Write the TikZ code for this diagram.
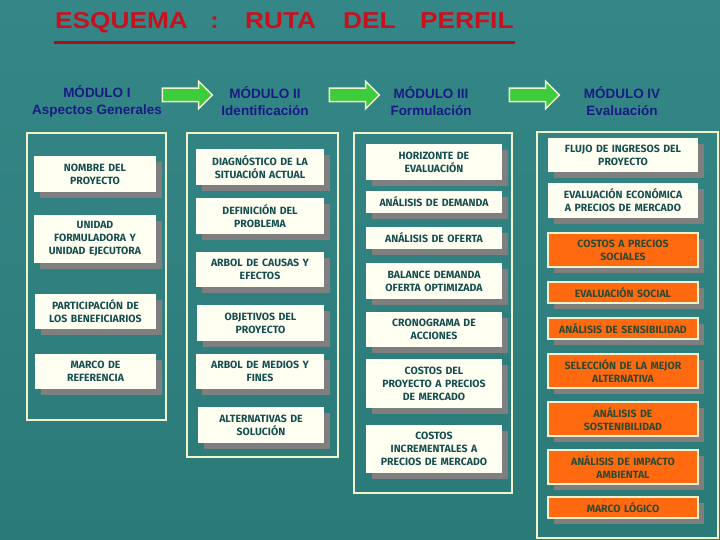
\documentclass[tikz,border=0pt]{standalone}
\usepackage{fontspec}
\setmainfont{Liberation Sans}
\newfontfamily\boxfont{Fira Sans}
\usetikzlibrary{shadows,shapes.arrows}
\definecolor{bgtop}{HTML}{358787}
\definecolor{bgbot}{HTML}{2A7A78}
\definecolor{titlered}{HTML}{C8101E}
\definecolor{modblue}{HTML}{1A1A85}
\definecolor{cream}{HTML}{F2F2CC}
\definecolor{boxfill}{HTML}{FFFFF2}
\definecolor{shadowgray}{HTML}{7F7F7F}
\definecolor{boxtext}{HTML}{164E50}
\definecolor{orangefill}{HTML}{FF6A10}
\definecolor{orangetext}{HTML}{2E4A30}
\definecolor{arrowgreen}{HTML}{3CCC3C}
\tikzset{
  frame/.style={draw=cream, line width=2.5pt},
  wbox/.style={fill=boxfill, inner sep=0pt, align=center, text=boxtext,
    font=\boxfont\bfseries\fontsize{10.5}{13}\selectfont,
    general shadow={fill=shadowgray, shadow xshift=6pt, shadow yshift=-6pt}},
  obox/.style={wbox, fill=orangefill, draw=cream, line width=1.2pt, text=orangetext},
  modlabel/.style={text=modblue, align=center, font=\bfseries\fontsize{13.5}{17}\selectfont, inner sep=0pt},
  garrow/.style={single arrow, fill=arrowgreen, draw=cream, line width=1.5pt,
    minimum height=50pt, inner xsep=0pt, inner ysep=6pt,
    single arrow head extend=7pt, single arrow tip angle=90},
  titleword/.style={text=titlered, font=\bfseries\fontsize{25}{30}\selectfont, inner sep=0pt, anchor=base west, xscale=1.05, yscale=0.92}
}
\newcommand\bx[7]{%
  \node[#7, minimum width={#4-#2}, minimum height={#5-#3}, text width={#4-#2-4}]
    (#1) at ({(#2+#4)/2},{(#3+#5)/2}) {#6};}
\begin{document}
\begin{tikzpicture}[x=1pt,y=-1pt]
\useasboundingbox (0,0) rectangle (720,540);
\shade[top color=bgtop, bottom color=bgbot] (0,0) rectangle (720,540);
% title
\node[titleword] (t1) at (55,29) {ESQUEMA};
\node[titleword] (t2) at (210,29) {:};
\node[titleword] (t3) at (245,29) {RUTA};
\node[titleword] (t4) at (343,29) {DEL};
\node[titleword] (t5) at (420,29) {PERFIL};
\draw[titlered!85!black, line width=3pt] (54,43) -- (515,43);
% module labels
\node[modlabel] (m1) at (97,101) {MÓDULO I\\Aspectos Generales};
\node[modlabel] (m2) at (265,101) {MÓDULO II\\Identificación};
\node[modlabel] (m3) at (431,101) {MÓDULO III\\Formulación};
\node[modlabel] (m4) at (622,101) {MÓDULO IV\\Evaluación};
\node[garrow] (a1) at (184,95) {};
\node[garrow] (a2) at (351,95) {};
\node[garrow] (a3) at (531,95) {};
% frames
\draw[frame] (27,133) rectangle (166,420);
\draw[frame] (187,133) rectangle (338,457);
\draw[frame] (354,133) rectangle (512,493);
\draw[frame] (537,132) rectangle (718,538);
% column 1
\bx{c1a}{34}{156}{156}{192}{NOMBRE DEL\\PROYECTO}{wbox}
\bx{c1b}{34}{215}{156}{263}{UNIDAD\\FORMULADORA Y\\UNIDAD EJECUTORA}{wbox}
\bx{c1c}{35}{294}{156}{329}{PARTICIPACIÓN DE\\LOS BENEFICIARIOS}{wbox}
\bx{c1d}{35}{354}{156}{389}{MARCO DE\\REFERENCIA}{wbox}
% column 2
\bx{c2a}{196}{149}{324}{185}{DIAGNÓSTICO DE LA\\SITUACIÓN ACTUAL}{wbox}
\bx{c2b}{196}{198}{324}{234}{DEFINICIÓN DEL\\PROBLEMA}{wbox}
\bx{c2c}{196}{252}{324}{287}{ARBOL DE CAUSAS Y\\EFECTOS}{wbox}
\bx{c2d}{197}{305}{324}{341}{OBJETIVOS DEL\\PROYECTO}{wbox}
\bx{c2e}{196}{354}{324}{389}{ARBOL DE MEDIOS Y\\FINES}{wbox}
\bx{c2f}{198}{407}{324}{443}{ALTERNATIVAS DE\\SOLUCIÓN}{wbox}
% column 3
\bx{c3a}{366}{144}{502}{180}{HORIZONTE DE\\EVALUACIÓN}{wbox}
\bx{c3b}{366}{191}{502}{213}{ANÁLISIS DE DEMANDA}{wbox}
\bx{c3c}{366}{227}{502}{249}{ANÁLISIS DE OFERTA}{wbox}
\bx{c3d}{366}{263}{502}{299}{BALANCE DEMANDA\\OFERTA OPTIMIZADA}{wbox}
\bx{c3e}{366}{312}{502}{347}{CRONOGRAMA DE\\ACCIONES}{wbox}
\bx{c3f}{366}{359}{502}{408}{COSTOS DEL\\PROYECTO A PRECIOS\\DE MERCADO}{wbox}
\bx{c3g}{366}{425}{502}{473}{COSTOS\\INCREMENTALES A\\PRECIOS DE MERCADO}{wbox}
% column 4
\bx{c4a}{548}{138}{698}{172}{FLUJO DE INGRESOS DEL\\PROYECTO}{wbox}
\bx{c4b}{548}{183}{698}{218}{EVALUACIÓN ECONÓMICA\\A PRECIOS DE MERCADO}{wbox}
\bx{c4c}{548}{233}{698}{267}{COSTOS A PRECIOS\\SOCIALES}{obox}
\bx{c4d}{548}{282}{698}{303}{EVALUACIÓN SOCIAL}{obox}
\bx{c4e}{548}{318}{698}{339}{ANÁLISIS DE SENSIBILIDAD}{obox}
\bx{c4f}{548}{354}{698}{388}{SELECCIÓN DE LA MEJOR\\ALTERNATIVA}{obox}
\bx{c4g}{548}{402}{698}{436}{ANÁLISIS DE\\SOSTENIBILIDAD}{obox}
\bx{c4h}{548}{450}{698}{484}{ANÁLISIS DE IMPACTO\\AMBIENTAL}{obox}
\bx{c4i}{548}{497}{698}{518}{MARCO LÓGICO}{obox}
\end{tikzpicture}
\end{document}
